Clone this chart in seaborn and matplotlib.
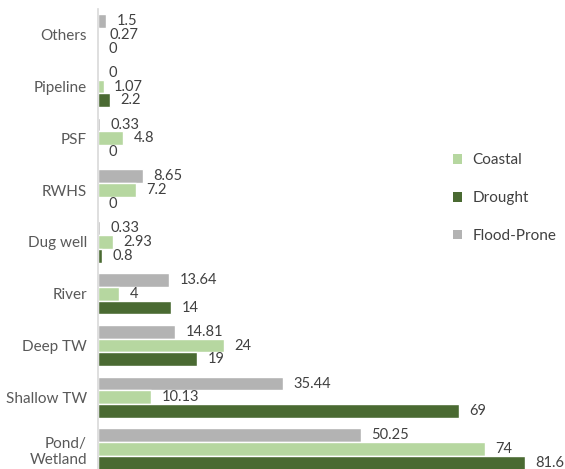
import matplotlib
matplotlib.use("Agg")
import matplotlib.pyplot as plt
from matplotlib.patches import Patch
import seaborn as sns
import pandas as pd

sources = ["Others", "Pipeline", "PSF", "RWHS", "Dug well", "River",
           "Deep TW", "Shallow TW", "Pond/\nWetland"]
flood_prone = [1.5, 0, 0.33, 8.65, 0.33, 13.64, 14.81, 35.44, 50.25]
coastal = [0.27, 1.07, 4.8, 7.2, 2.93, 4, 24, 10.13, 74]
drought = [0, 2.2, 0, 0, 0.8, 14, 19, 69, 81.6]

zones = ["Flood-Prone", "Coastal", "Drought"]
colors = {"Flood-Prone": "#b3b3b3", "Coastal": "#b6d7a0", "Drought": "#4a6a32"}

rows = []
for zone, vals in zip(zones, [flood_prone, coastal, drought]):
    for src, v in zip(sources, vals):
        rows.append({"source": src, "zone": zone, "value": v})
df = pd.DataFrame(rows)

sns.set_style("white")
plt.rcParams["font.family"] = ["Lato", "DejaVu Sans"]

fig = plt.figure(figsize=(5.65, 4.69), dpi=100)
ax = fig.add_axes([0.1735, -0.0128, 0.81, 0.9938])

sns.barplot(data=df, y="source", x="value", hue="zone", hue_order=zones,
            order=sources, palette=colors, orient="h", width=0.8,
            saturation=1, ax=ax, legend=False)

for cont in ax.containers:
    ax.bar_label(cont, fmt="{:g}", padding=7.5, fontsize=10.5, color="#404040")

ax.set_xlim(0, 87.5)
ax.set_ylim(8.5, -0.5)
ax.set_xlabel("")
ax.set_ylabel("")
ax.set_xticks([])
ax.tick_params(axis="y", length=0, pad=8, labelsize=11, labelcolor="#595959")
for lbl in ax.get_yticklabels():
    lbl.set_horizontalalignment("right")
    lbl.set_multialignment("right")
for side in ["top", "right", "bottom"]:
    ax.spines[side].set_visible(False)
ax.spines["left"].set_color("#d9d9d9")
ax.spines["left"].set_linewidth(1.2)

legend_order = ["Coastal", "Drought", "Flood-Prone"]
handles = [Patch(facecolor=colors[z], edgecolor="none") for z in legend_order]
ax.legend(handles, legend_order, loc="center left", bbox_to_anchor=(0.745, 0.594),
          frameon=False, fontsize=11, handlelength=0.6, handleheight=0.6,
          handletextpad=0.7, labelspacing=1.55, labelcolor="#404040")

fig.savefig("out.png", dpi=100)
